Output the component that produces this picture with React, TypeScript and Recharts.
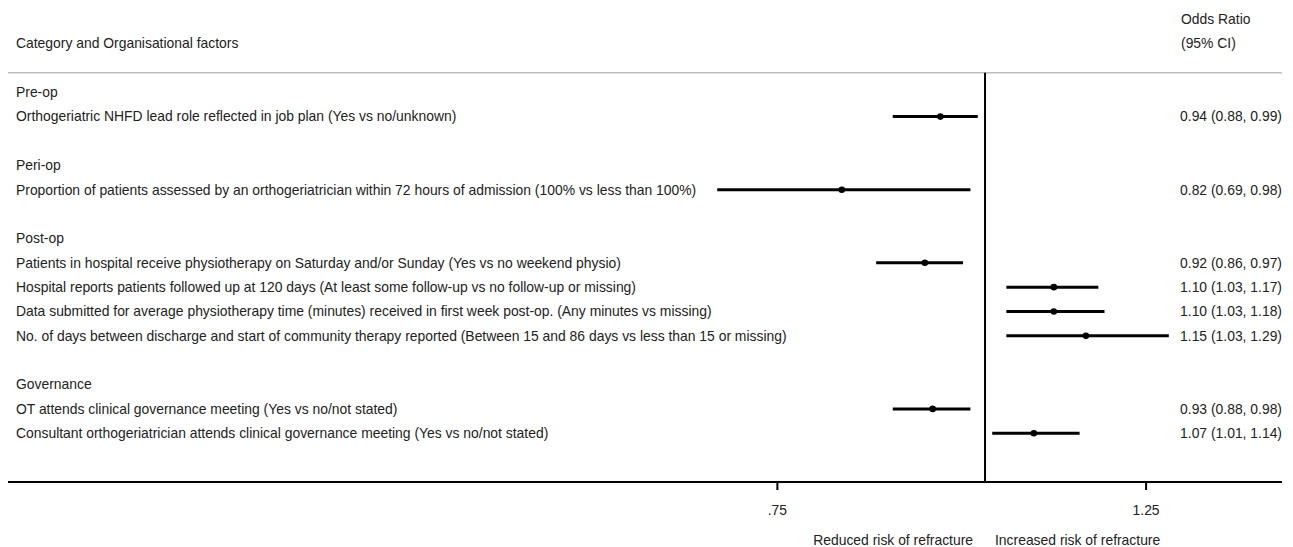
import { ScatterChart, Scatter, XAxis, YAxis, ReferenceLine } from 'recharts'

// groups and how many factors each holds, in display order
const categories = ['Pre-op', 'Peri-op', 'Post-op', 'Governance']
const factorsPerCategory = [1, 1, 4, 2]

const factors = [
  'Orthogeriatric NHFD lead role reflected in job plan (Yes vs no/unknown)',
  'Proportion of patients assessed by an orthogeriatrician within 72 hours of admission (100% vs less than 100%)',
  'Patients in hospital receive physiotherapy on Saturday and/or Sunday (Yes vs no weekend physio)',
  'Hospital reports patients followed up at 120 days (At least some follow-up vs no follow-up or missing)',
  'Data submitted for average physiotherapy time (minutes) received in first week post-op. (Any minutes vs missing)',
  'No. of days between discharge and start of community therapy reported (Between 15 and 86 days vs less than 15 or missing)',
  'OT attends clinical governance meeting (Yes vs no/not stated)',
  'Consultant orthogeriatrician attends clinical governance meeting (Yes vs no/not stated)',
]
const oddsRatio = [0.94, 0.82, 0.92, 1.1, 1.1, 1.15, 0.93, 1.07]
const ciLow = [0.88, 0.69, 0.86, 1.03, 1.03, 1.03, 0.88, 1.01]
const ciHigh = [0.99, 0.98, 0.97, 1.17, 1.18, 1.29, 0.98, 1.14]

const xTicks = [0.75, 1.25]
const xTickLabels = ['.75', '1.25']

const TEXT = '#222'
const FONT = 'Liberation Sans, Arial, sans-serif'
const FS = 13.9

// build row positions: header row, its factors, then a blank row
type Row = { k: number; left: string; right: string; rightHeader?: boolean }
const rows: Row[] = [
  { k: -3, left: '', right: 'Odds Ratio', rightHeader: true },
  { k: -2, left: 'Category and Organisational factors', right: '(95% CI)', rightHeader: true },
]
const factorRow: number[] = []
let k = 0
let fi = 0
categories.forEach((cat, ci) => {
  rows.push({ k, left: cat, right: '' })
  k++
  for (let j = 0; j < factorsPerCategory[ci]; j++) {
    const or = oddsRatio[fi].toFixed(2)
    const lo = ciLow[fi].toFixed(2)
    const hi = ciHigh[fi].toFixed(2)
    rows.push({ k, left: factors[fi], right: `${or} (${lo}, ${hi})` })
    factorRow.push(k)
    k++
    fi++
  }
  k++
})
const yBottom = factorRow[factorRow.length - 1] + 2

const points = oddsRatio.map((v, i) => ({ x: v, y: factorRow[i] }))

function RowTick(props: any) {
  const { y, payload } = props
  const row = rows.find((r) => r.k === payload.value)
  if (!row) return null
  return (
    <g>
      <text x={16} y={y} dy="0.35em" textAnchor="start" fill={TEXT} fontSize={FS}>
        {row.left}
      </text>
      <text
        x={row.rightHeader ? 1181 : 1282}
        y={y}
        dy="0.35em"
        textAnchor={row.rightHeader ? 'start' : 'end'}
        fill={TEXT}
        fontSize={FS}
      >
        {row.right}
      </text>
    </g>
  )
}

function RiskLabels(props: any) {
  const vb = props.viewBox || {}
  const x = vb.x ?? 0
  const y = (vb.y ?? 0) + (vb.height ?? 0) + 58
  return (
    <g>
      <text x={x - 12} y={y} dy="0.35em" textAnchor="end" fill={TEXT} fontSize={FS}>
        Reduced risk of refracture
      </text>
      <text x={x + 10} y={y} dy="0.35em" textAnchor="start" fill={TEXT} fontSize={FS}>
        Increased risk of refracture
      </text>
    </g>
  )
}

export default function App() {
  return (
    <div style={{ width: 1293, height: 547 }}>
      <style>{'body{margin:0}'}</style>
      <ScatterChart
        width={1293}
        height={547}
        margin={{ top: 7, right: 11, bottom: 25, left: 7 }}
        style={{ fontFamily: FONT }}
      >
        <XAxis
          dataKey="x"
          type="number"
          scale="log"
          domain={[0.2583, 1.509]}
          allowDataOverflow
          ticks={xTicks}
          tickFormatter={(v: number) => xTickLabels[xTicks.indexOf(v)] ?? String(v)}
          height={40}
          tickSize={8}
          tickMargin={15}
          axisLine={{ stroke: '#000', strokeWidth: 2 }}
          tickLine={{ stroke: '#000', strokeWidth: 2 }}
          tick={{ fill: TEXT, fontSize: FS }}
        />
        <YAxis
          dataKey="y"
          type="number"
          reversed
          domain={[-3.5, yBottom]}
          allowDataOverflow
          ticks={rows.map((r) => r.k)}
          interval={0}
          width={1}
          axisLine={false}
          tickLine={false}
          tick={<RowTick />}
        />
        <ReferenceLine y={-0.8} stroke="#bdbdbd" strokeWidth={1.5} />
        <ReferenceLine
          segment={[
            { x: 1, y: -0.8 },
            { x: 1, y: yBottom },
          ]}
          stroke="#000"
          strokeWidth={2}
          label={<RiskLabels />}
        />
        {points.map((p, i) => (
          <Scatter
            key={`ci-${i}`}
            data={[
              { x: ciLow[i], y: p.y },
              { x: ciHigh[i], y: p.y },
            ]}
            line={{ stroke: '#000', strokeWidth: 3 }}
            lineType="joint"
            shape={() => <g />}
            isAnimationActive={false}
          />
        ))}
        <Scatter
          data={points}
          fill="#000"
          shape={(s: any) => <circle cx={s.cx} cy={s.cy} r={3.3} fill="#000" />}
          isAnimationActive={false}
        />
      </ScatterChart>
    </div>
  )
}
